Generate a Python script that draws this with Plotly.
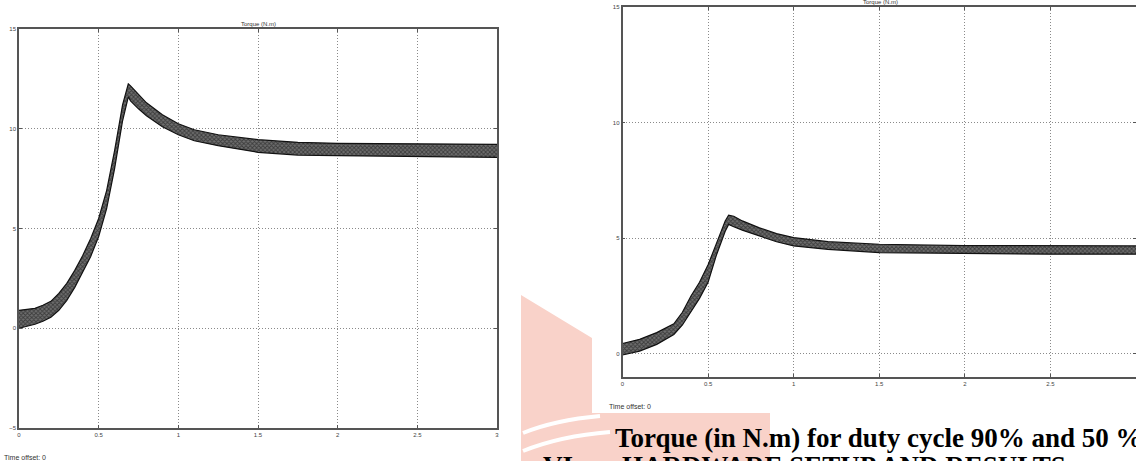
import plotly.graph_objects as go

W, H = 1136, 461

# ---------------- data ----------------
# Left scope: duty cycle 90 %  (ripple band: upper / lower envelope)
t_left = [0, 0.05, 0.1, 0.15, 0.2, 0.25, 0.3, 0.35, 0.4, 0.45, 0.5, 0.55, 0.6, 0.65,
          0.686, 0.7, 0.75, 0.8, 0.9, 1.0, 1.1, 1.25, 1.5, 1.75, 2.0, 2.5, 3.0]
upper_left = [0.9, 0.95, 1.0, 1.15, 1.35, 1.75, 2.25, 2.9, 3.65, 4.5, 5.5, 6.9, 8.9, 11.2,
              12.25, 12.15, 11.7, 11.3, 10.7, 10.25, 9.95, 9.7, 9.45, 9.32, 9.27, 9.25, 9.22]
lower_left = [0.0, 0.1, 0.2, 0.35, 0.55, 0.9, 1.4, 2.05, 2.8, 3.6, 4.6, 6.0, 8.0, 10.4,
              11.6, 11.4, 11.0, 10.65, 10.1, 9.7, 9.4, 9.15, 8.82, 8.68, 8.65, 8.6, 8.57]

# Right scope: duty cycle 50 %
t_right = [0, 0.1, 0.2, 0.3, 0.35, 0.4, 0.45, 0.5, 0.55, 0.6, 0.62, 0.65, 0.7, 0.8, 0.9,
           1.0, 1.2, 1.5, 2.0, 2.5, 3.0]
upper_right = [0.45, 0.63, 0.92, 1.3, 1.8, 2.5, 3.1, 3.85, 4.8, 5.75, 6.0, 5.95, 5.75, 5.45,
               5.2, 5.03, 4.85, 4.74, 4.68, 4.67, 4.67]
lower_right = [-0.05, 0.12, 0.41, 0.84, 1.25, 1.8, 2.4, 3.1, 4.3, 5.3, 5.6, 5.5, 5.35, 5.1,
               4.85, 4.67, 4.52, 4.38, 4.33, 4.31, 4.31]

x_ticks = [0, 0.5, 1, 1.5, 2, 2.5, 3]
x_tick_labels = ["0", "0.5", "1", "1.5", "2", "2.5", "3"]
y_ticks_left = [-5, 0, 5, 10, 15]
y_ticks_right = [0, 5, 10, 15]
scope_title = "Torque (N.m)"
time_offset = "Time offset: 0"
caption = "Torque (in N.m) for duty cycle 90% and 50 %"
section_no = "VI."
section_title = "HARDWARE SETUP AND RESULTS"


def X(px):
    return px / W


def Y(py):
    return 1 - py / H


fig = go.Figure()

pattern = dict(shape="x", size=3, solidity=0.5, fgcolor="#0a0a0a", bgcolor="#6e6e6e")

for t, lo, up, xa, ya in [(t_left, lower_left, upper_left, "x", "y"),
                          (t_right, lower_right, upper_right, "x2", "y2")]:
    fig.add_trace(go.Scatter(x=t, y=lo, mode="lines", line=dict(color="#111", width=1.2),
                             xaxis=xa, yaxis=ya, showlegend=False, hoverinfo="skip"))
    fig.add_trace(go.Scatter(x=t, y=up, mode="lines", line=dict(color="#111", width=1.2),
                             fill="tonexty", fillcolor="#6e6e6e", fillpattern=pattern,
                             xaxis=xa, yaxis=ya, showlegend=False, hoverinfo="skip"))

axis_common = dict(
    showgrid=True, gridcolor="#8a8a8a", gridwidth=1, griddash="1px,2px",
    showline=True, linecolor="#555555", linewidth=1.6, mirror="ticks",
    ticks="inside", ticklen=3, tickcolor="#555555", zeroline=False, automargin=False,
    tickfont=dict(family="Liberation Sans, Arial", size=6, color="#444444"),
)

fig.update_layout(
    width=W, height=H, margin=dict(l=0, r=0, t=0, b=0, autoexpand=False),
    paper_bgcolor="white", plot_bgcolor="white",
    xaxis=dict(domain=[X(19), X(497)], range=[0, 3], tickvals=x_ticks,
               ticktext=x_tick_labels, anchor="y", **axis_common),
    yaxis=dict(domain=[Y(428), Y(29)], range=[-5, 15], tickvals=y_ticks_left,
               anchor="x", **axis_common),
    xaxis2=dict(domain=[X(622.5), 1.0], range=[0, 3], tickvals=x_ticks,
                ticktext=x_tick_labels, anchor="y2", **axis_common),
    yaxis2=dict(domain=[Y(377), Y(7)], range=[-1, 15], tickvals=y_ticks_right,
                anchor="x2", **axis_common),
)

# faint watermark behind the caption area
pink = "#F9D2C9"
wm_path = (f"M {X(521)},{Y(295)} L {X(592)},{Y(338)} L {X(592)},{Y(413)} "
           f"L {X(770)},{Y(413)} L {X(770)},{Y(461)} L {X(521)},{Y(461)} Z")
fig.add_shape(type="path", path=wm_path, xref="paper", yref="paper",
              fillcolor=pink, line=dict(width=0), layer="below")
for p in [(f"M {X(523)},{Y(433)} Q {X(555)},{Y(420)} {X(600)},{Y(416)}"),
          (f"M {X(523)},{Y(451)} Q {X(560)},{Y(436)} {X(610)},{Y(432)}")]:
    fig.add_shape(type="path", path=p, xref="paper", yref="paper",
                  line=dict(color="white", width=4), layer="below")

small = dict(family="Liberation Sans, Arial", size=6, color="#333333")
small7 = dict(family="Liberation Sans, Arial", size=7, color="#333333")
serif = dict(family="Liberation Serif, Times New Roman", size=27, color="black")
ann = [
    dict(x=X(258), y=Y(24), text=scope_title, font=small, xanchor="center", yanchor="middle"),
    dict(x=X(880), y=Y(2), text=scope_title, font=small, xanchor="center", yanchor="middle"),
    dict(x=X(2), y=Y(457), text=time_offset, font=small7, xanchor="left", yanchor="middle"),
    dict(x=X(607), y=Y(406), text=time_offset, font=small7, xanchor="left", yanchor="middle"),
    dict(x=X(613), y=Y(438), text="<b>" + caption + "</b>", font=serif,
         xanchor="left", yanchor="middle"),
    dict(x=X(541), y=Y(449), text="<b>" + section_no + "</b>", font=serif,
         xanchor="left", yanchor="top"),
    dict(x=X(620), y=Y(449), text="<b>" + section_title + "</b>", font=serif,
         xanchor="left", yanchor="top"),
]
for a in ann:
    fig.add_annotation(xref="paper", yref="paper", showarrow=False, **a)

fig.write_html("out.html", config={"displayModeBar": False},
               post_script="document.body.style.margin='0';document.body.style.overflow='hidden';")
